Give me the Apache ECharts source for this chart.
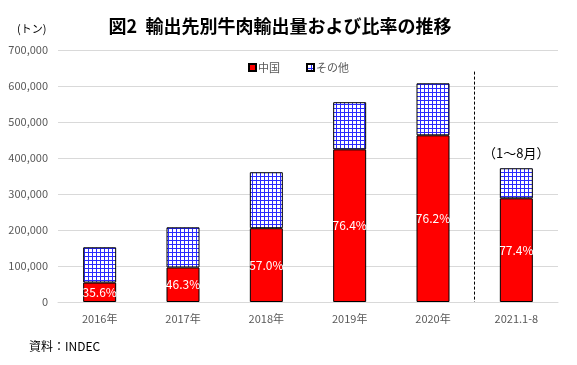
<!DOCTYPE html>
<html><head><meta charset="utf-8">
<script src="https://cdn.jsdelivr.net/npm/echarts@6/dist/echarts.min.js"></script>
<style>html,body{margin:0;padding:0;background:#fff}#c{width:577px;height:365px}</style>
</head><body><div id="c"></div>
<script>
const categories = ['2016年', '2017年', '2018年', '2019年', '2020年', '2021.1-8'];
const chinaValues = [54000, 96000, 205000, 424000, 463000, 288000];
const otherValues = [98000, 111500, 155500, 131000, 144500, 83500];
const chinaShare = ['35.6%', '46.3%', '57.0%', '76.4%', '76.2%', '77.4%'];
const notes = ['', '', '', '', '', '（1～8月）'];
const yTicks = [0, 100000, 200000, 300000, 400000, 500000, 600000, 700000];

function gridPattern() {
  const c = document.createElement('canvas');
  c.width = 4; c.height = 4;
  const g = c.getContext('2d');
  g.fillStyle = '#ffffff'; g.fillRect(0, 0, 4, 4);
  g.fillStyle = '#2a2aff';
  g.fillRect(0, 0, 4, 1);
  g.fillRect(0, 0, 1, 4);
  return c;
}
const pat = { image: gridPattern(), repeat: 'repeat' };
const font = '"Noto Sans CJK JP", sans-serif';

const chart = echarts.init(document.getElementById('c'), null, { renderer: 'canvas' });
chart.setOption({
  animation: false,
  textStyle: { fontFamily: font },
  title: [
    { text: '図2  輸出先別牛肉輸出量および比率の推移', left: 275, top: 12, textAlign: 'center',
      textStyle: { fontSize: 18, fontWeight: 'bold', color: '#000', fontFamily: font } },
    { text: '(トン)', left: 12, top: 18, textStyle: { fontSize: 11, fontWeight: 'normal', color: '#000', fontFamily: font } },
    { text: '資料：INDEC', left: 24, top: 335, textStyle: { fontSize: 12, fontWeight: 'normal', color: '#000', fontFamily: font } }
  ],
  legend: {
    top: 57, left: 243, itemWidth: 7, itemHeight: 7, itemGap: 26,
    textStyle: { fontSize: 11, color: '#595959', fontFamily: font, padding: [0, 0, 0, -3] },
    data: [{ name: '中国', icon: 'rect' }, { name: 'その他', icon: 'rect' }]
  },
  grid: { left: 58, right: 19, top: 50, bottom: 63 },
  xAxis: [
    { type: 'category', data: categories,
      axisLine: { lineStyle: { color: '#d9d9d9' } }, axisTick: { show: false },
      axisLabel: { color: '#595959', fontSize: 11, margin: 11, fontFamily: font } },
    { type: 'value', min: 0, max: 6, show: false }
  ],
  yAxis: {
    type: 'value', min: 0, max: 700000, interval: 100000,
    axisLine: { show: false }, axisTick: { show: false },
    splitLine: { lineStyle: { color: '#d9d9d9' } },
    axisLabel: { color: '#595959', fontSize: 11, margin: 10, fontFamily: font,
      formatter: v => yTicks.includes(v) ? v.toLocaleString('en-US') : '' }
  },
  series: [
    { name: '中国', type: 'bar', stack: 't', barWidth: 33, data: chinaValues,
      itemStyle: { color: '#ff0000', borderColor: '#000', borderWidth: 1 },
      label: { show: true, position: 'inside', color: '#fff', fontSize: 12, fontFamily: font,
        formatter: p => chinaShare[p.dataIndex] } },
    { name: 'その他', type: 'bar', stack: 't', barWidth: 33,
      data: otherValues.map((v, i) => notes[i] ? { value: v, label: { show: true,
        position: 'top', distance: 6, formatter: notes[i], color: '#000', fontSize: 13,
        backgroundColor: '#fff', padding: [3, 12], fontFamily: font } } : v),
      itemStyle: { color: pat, borderColor: '#000', borderWidth: 1 } },
    { name: 'divider', type: 'line', xAxisIndex: 1, data: [], silent: true,
      markLine: { symbol: 'none', silent: true, label: { show: false },
        lineStyle: { color: '#000', type: [3, 2], width: 1 },
        data: [[{ coord: [5, 640000] }, { coord: [5, 0] }]] } }
  ]
});
</script></body></html>
